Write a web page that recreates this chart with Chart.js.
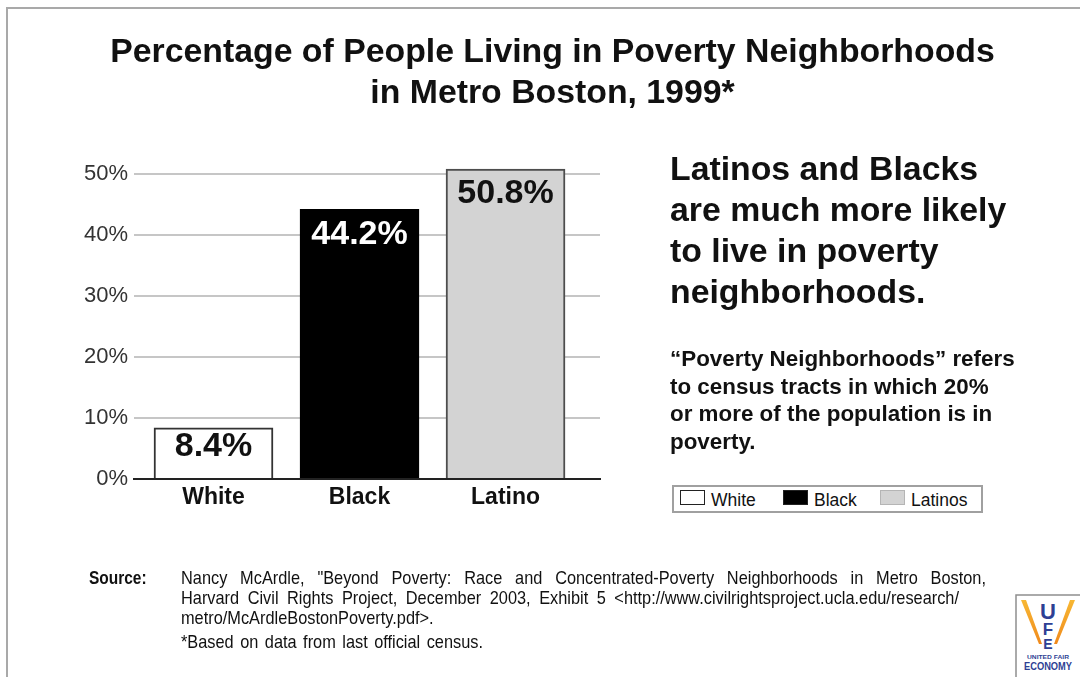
<!DOCTYPE html>
<html>
<head>
<meta charset="utf-8">
<script src="https://cdn.jsdelivr.net/npm/chart.js@4.4.1/dist/chart.umd.min.js"></script>
<style>
  html, body { margin: 0; padding: 0; background: #ffffff; }
  body { width: 1080px; height: 677px; position: relative; overflow: hidden;
         font-family: "Liberation Sans", Arial, Helvetica, sans-serif; color: #111; }
  #frame { position: absolute; left: 6px; top: 7px; width: 1100px; height: 700px;
           border-top: 2px solid #a9a9a9; border-left: 2px solid #a9a9a9; }
  #chartBox { position: absolute; left: 0; top: 0; width: 1080px; height: 677px; }
  .title { position: absolute; left: 0; top: 30px; width: 1105px; text-align: center;
           font-weight: bold; font-size: 33.8px; line-height: 41px; color: #111; }
  .headline { position: absolute; left: 670px; top: 148px; font-weight: bold;
              font-size: 33.8px; line-height: 41px; color: #111; white-space: nowrap; }
  .note { position: absolute; left: 670px; top: 345px; font-weight: bold;
          font-size: 22.4px; line-height: 27.7px; color: #111; white-space: nowrap; }
  #legend { position: absolute; left: 672px; top: 485px; width: 311px; height: 28px;
            box-sizing: border-box; border: 2px solid #a0a0a0; background: #fff; }
  .item { position: absolute; top: 3px; height: 20px; font-size: 17.5px; line-height: 20px;
          white-space: nowrap; color: #111; }
  .sw { position: absolute; top: 3px; width: 25px; height: 15px; box-sizing: border-box; }
  .src { position: absolute; font-family: "Liberation Sans", Arial, sans-serif;
         font-size: 19px; line-height: 20px; color: #111; white-space: nowrap; transform-origin: 0 0; }
  .srcHead { position: absolute; left: 89px; top: 568px; font-weight: bold; font-size: 18px;
             line-height: 20px; color: #111; font-family: "Liberation Sans", Arial, sans-serif;
             white-space: nowrap; transform-origin: 0 0; }
  #logo { position: absolute; left: 1015px; top: 594px; }
</style>
</head>
<body>
<div id="frame"></div>
<div id="chartBox"><canvas id="povertyChart" width="1080" height="677"></canvas></div>

<div class="title">Percentage of People Living in Poverty Neighborhoods<br>in Metro Boston, 1999*</div>
<div class="headline">Latinos and Blacks<br>are much more likely<br>to live in poverty<br>neighborhoods.</div>
<div class="note">“Poverty Neighborhoods” refers<br>to census tracts in which 20%<br>or more of the population is in<br>poverty.</div>

<div id="legend"></div>

<div class="srcHead" data-w="62">Source:</div>
<div class="src" data-w="805" style="left:181px; top:568px;">Nancy McArdle, "Beyond Poverty: Race and Concentrated-Poverty Neighborhoods in Metro Boston,</div>
<div class="src" data-w="778" style="left:181px; top:588px;">Harvard Civil Rights Project, December 2003, Exhibit 5 &lt;http://www.civilrightsproject.ucla.edu/research/</div>
<div class="src" style="left:181px; top:608px;">metro/McArdleBostonPoverty.pdf&gt;.</div>
<div class="src" data-w="302" style="left:181px; top:632px;">*Based on data from last official census.</div>

<svg id="logo" width="66" height="84" viewBox="0 0 66 84">
  <defs>
    <linearGradient id="gold" x1="0" y1="0" x2="0" y2="1">
      <stop offset="0" stop-color="#f7b733"/>
      <stop offset="1" stop-color="#f08a1c"/>
    </linearGradient>
  </defs>
  <rect x="1" y="1" width="70" height="90" fill="#ffffff" stroke="#8e8e8e" stroke-width="1.5"/>
  <polygon points="6,6 11,6 27,50 24,50" fill="url(#gold)"/>
  <polygon points="60,6 55,6 39,50 42,50" fill="url(#gold)"/>
  <text x="33" y="25" text-anchor="middle" font-family="Liberation Sans, Arial" font-weight="bold" font-size="22" fill="#2e3f94">U</text>
  <text x="33" y="41" text-anchor="middle" font-family="Liberation Sans, Arial" font-weight="bold" font-size="17" fill="#2e3f94">F</text>
  <text x="33" y="55" text-anchor="middle" font-family="Liberation Sans, Arial" font-weight="bold" font-size="14" fill="#2e3f94">E</text>
  <text x="33" y="65" text-anchor="middle" font-family="Liberation Sans, Arial" font-weight="bold" font-size="6" fill="#2e3f94" textLength="42" lengthAdjust="spacingAndGlyphs">UNITED FAIR</text>
  <text x="33" y="76" text-anchor="middle" font-family="Liberation Sans, Arial" font-weight="bold" font-size="11" fill="#2e3f94" textLength="48" lengthAdjust="spacingAndGlyphs">ECONOMY</text>
</svg>

<script>
// Share of each group living in poverty neighborhoods, metro Boston 1999 (percent)
const categories = ['White', 'Black', 'Latino'];
const shares = [8.4, 44.2, 50.8];
const legendNames = ['White', 'Black', 'Latinos'];
const yTickValues = [0, 10, 20, 30, 40, 50];

// Bar appearance per group
const barFills = ['#ffffff', '#000000', '#d3d3d3'];
const barEdges = ['#333333', '#000000', '#4d4d4d'];
const valueColors = ['#111111', '#ffffff', '#111111'];

// Value labels written inside the top of each bar
const valueLabelPlugin = {
  id: 'valueLabels',
  afterDatasetsDraw(chart) {
    const ctx = chart.ctx;
    const meta = chart.getDatasetMeta(0);
    ctx.save();
    ctx.font = 'bold 34px "Liberation Sans", Arial, sans-serif';
    ctx.textAlign = 'center';
    ctx.textBaseline = 'middle';
    meta.data.forEach((bar, i) => {
      const h = bar.base - bar.y;
      const offset = Math.min(25, h * 0.37);
      ctx.fillStyle = valueColors[i];
      ctx.fillText(shares[i].toFixed(1) + '%', bar.x, bar.y + offset);
    });
    ctx.restore();
  }
};

new Chart(document.getElementById('povertyChart'), {
  type: 'bar',
  data: {
    datasets: [{
      data: shares.map((v, i) => ({ x: i, y: v })),
      backgroundColor: barFills,
      borderColor: barEdges,
      borderWidth: 2,
      borderSkipped: 'bottom',
      barThickness: 119
    }]
  },
  options: {
    responsive: false,
    animation: false,
    layout: { padding: { left: 0, top: 143.5, right: 480, bottom: 158 } },
    plugins: { legend: { display: false }, tooltip: { enabled: false } },
    scales: {
      x: {
        type: 'linear',
        min: -0.5445,
        max: 2.647,
        offset: false,
        grid: { display: false, drawTicks: false },
        border: { display: true, color: '#222222', width: 2, z: 1 },
        afterFit(scale) { scale.height = 40; },
        afterBuildTicks(scale) {
          scale.ticks = categories.map((c, i) => ({ value: i }));
        },
        ticks: {
          autoSkip: false,
          maxRotation: 0,
          padding: 5,
          color: '#111111',
          font: { family: '"Liberation Sans", Arial, sans-serif', size: 23, weight: 'bold' },
          callback: (v) => categories[v] ?? ''
        }
      },
      y: {
        min: 0,
        max: 55,
        grid: {
          drawTicks: false,
          lineWidth: 2,
          color: (c) => (c.tick && c.tick.value === 0 ? '#222222' : '#c6c6c6')
        },
        border: { display: false },
        afterFit(scale) { scale.width = 134; },
        afterBuildTicks(scale) {
          scale.ticks = yTickValues.map((v) => ({ value: v }));
        },
        ticks: {
          padding: 6,
          color: '#333333',
          font: { family: '"Liberation Sans", Arial, sans-serif', size: 22 },
          callback: (v) => v + '%'
        }
      }
    }
  },
  plugins: [valueLabelPlugin]
});

// Legend entries
const legend = document.getElementById('legend');
const legendX = [6, 109, 206];
legendNames.forEach((name, i) => {
  const sw = document.createElement('div');
  sw.className = 'sw';
  sw.style.left = legendX[i] + 'px';
  sw.style.background = barFills[i];
  sw.style.border = '1.5px solid ' + (i === 2 ? '#b5b5b5' : '#222');
  legend.appendChild(sw);
  const t = document.createElement('div');
  t.className = 'item';
  t.style.left = (legendX[i] + 31) + 'px';
  t.textContent = name;
  legend.appendChild(t);
});

// Source lines use a narrowed face; lines with a set width are justified
// to it by widening the word gaps
const squeeze = 0.86;
document.querySelectorAll('.src, .srcHead').forEach((el) => {
  el.style.transform = 'scaleX(' + squeeze + ')';
  if (!el.dataset.w) return;
  const target = parseFloat(el.dataset.w) / squeeze;
  const natural = el.getBoundingClientRect().width / squeeze;
  const spaces = (el.textContent.match(/ /g) || []).length;
  const extra = target - natural;
  if (spaces > 0 && extra > 0) el.style.wordSpacing = (extra / spaces) + 'px';
});
</script>
</body>
</html>
